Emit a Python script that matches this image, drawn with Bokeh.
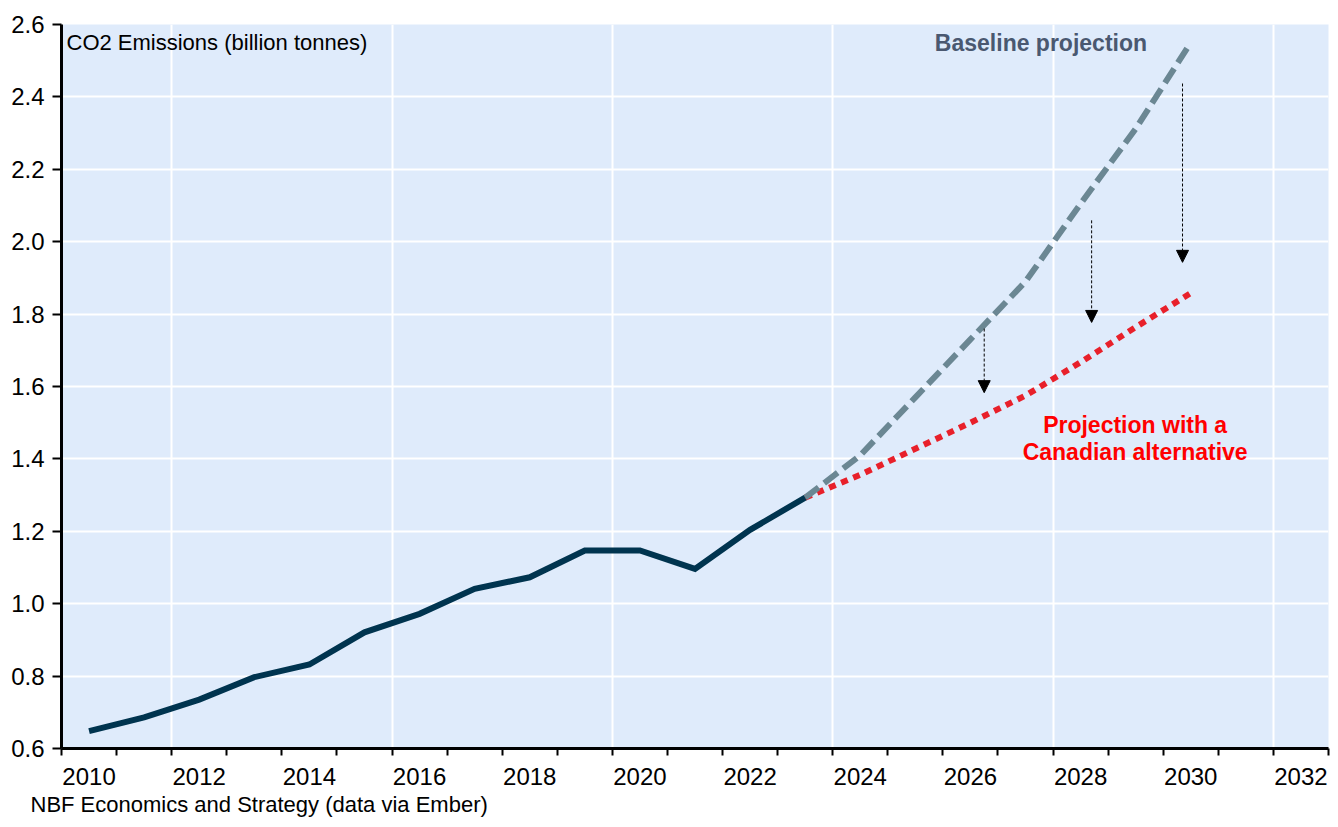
from bokeh.plotting import figure
from bokeh.models import (FixedTicker, NumeralTickFormatter, Label, Arrow,
                          NormalHead, Range1d, Title)
from bokeh.embed import file_html
from bokeh.resources import INLINE

# ---- data ----
hist_years = [2010, 2011, 2012, 2013, 2014, 2015, 2016, 2017, 2018, 2019,
              2020, 2021, 2022, 2023]
hist_values = [0.648, 0.686, 0.735, 0.797, 0.832, 0.921, 0.972, 1.041,
               1.073, 1.147, 1.147, 1.096, 1.204, 1.293]

proj_years = [2023, 2024, 2025, 2026, 2027, 2028, 2029, 2030]
baseline_values = [1.293, 1.41, 1.57, 1.73, 1.89, 2.105, 2.312, 2.55]
canadian_values = [1.293, 1.356, 1.428, 1.50, 1.575, 1.667, 1.764, 1.858]

x_tick_labels = [2010, 2012, 2014, 2016, 2018, 2020, 2022, 2024, 2026,
                 2028, 2030, 2032]
y_ticks = [0.6, 0.8, 1.0, 1.2, 1.4, 1.6, 1.8, 2.0, 2.2, 2.4, 2.6]

FONT = "Liberation Sans"

p = figure(width=1330, height=819, output_backend="svg", toolbar_location=None,
           x_range=Range1d(2009.5, 2032.5), y_range=Range1d(0.6, 2.6),
           min_border_left=61, min_border_right=2, min_border_top=24,
           min_border_bottom=71)

p.background_fill_color = "#DFEBFB"
p.border_fill_color = "white"
p.outline_line_color = None

# axes
p.xaxis.ticker = FixedTicker(ticks=x_tick_labels,
                             minor_ticks=[y + 0.5 for y in range(2009, 2033)])
p.xaxis.major_tick_out = 0
p.xaxis.major_tick_in = 0
p.xaxis.minor_tick_out = 7
p.xaxis.minor_tick_in = 0
p.xaxis.minor_tick_line_color = "black"
p.xaxis.minor_tick_line_width = 2
p.xaxis.major_label_standoff = 12

p.yaxis.ticker = FixedTicker(ticks=y_ticks, minor_ticks=[])
p.yaxis.formatter = NumeralTickFormatter(format="0.0")
p.yaxis.major_tick_out = 9
p.yaxis.major_tick_in = 0
p.yaxis.minor_tick_out = 0
p.yaxis.major_tick_line_width = 2
p.yaxis.major_label_standoff = 8

for ax in (p.xaxis, p.yaxis):
    ax.axis_line_color = "black"
    ax.axis_line_width = 3
    ax.major_tick_line_color = "black"
    ax.major_label_text_font = FONT
    ax.major_label_text_font_size = "24px"
    ax.major_label_text_color = "black"

p.xgrid.ticker = FixedTicker(ticks=[2011.5, 2015.5, 2019.5, 2023.5, 2027.5, 2031.5])
p.xgrid.grid_line_color = "white"
p.xgrid.grid_line_width = 2
p.ygrid.grid_line_color = "white"
p.ygrid.grid_line_width = 2

# lines
p.line(proj_years, canadian_values, line_color="#E8202A", line_width=6,
       line_dash="7 6", line_cap="butt")
p.line(proj_years, baseline_values, line_color="#6B8793", line_width=6,
       line_dash="17 7", line_cap="butt")
p.line(hist_years, hist_values, line_color="#00344F", line_width=6,
       line_join="miter")

# arrows
for xa, ytop, ybot in [(2026.25, 1.76, 1.583), (2028.2, 2.059, 1.777),
                       (2029.85, 2.437, 1.943)]:
    p.add_layout(Arrow(end=NormalHead(size=12, fill_color="black",
                                      line_color="black", line_width=1),
                       x_start=xa, y_start=ytop, x_end=xa, y_end=ybot,
                       line_color="black", line_width=1, line_dash="3 2"))

# texts
p.add_layout(Label(x=5, y=724 - 18, x_units="screen", y_units="screen",
                   text="CO2 Emissions (billion tonnes)", text_font=FONT,
                   text_font_size="22px", text_color="black",
                   text_baseline="middle", text_align="left"))
p.add_layout(Label(x=2027.28, y=2.55, text="Baseline projection",
                   text_font=FONT, text_font_size="23px", text_font_style="bold",
                   text_color="#4A5870", text_baseline="middle",
                   text_align="center"))
p.add_layout(Label(x=2028.99, y=1.495, text="Projection with a",
                   text_font=FONT, text_font_size="23px", text_font_style="bold",
                   text_color="#FF0000", text_baseline="middle",
                   text_align="center"))
p.add_layout(Label(x=2028.99, y=1.419, text="Canadian alternative",
                   text_font=FONT, text_font_size="23px", text_font_style="bold",
                   text_color="#FF0000", text_baseline="middle",
                   text_align="center"))

footer = Title(text="NBF Economics and Strategy (data via Ember)",
               align="left", offset=-31, text_font=FONT,
               text_font_size="22px", text_font_style="normal",
               text_color="black", standoff=5)
p.add_layout(footer, "below")

open("out.html", "w").write(file_html(p, INLINE))
